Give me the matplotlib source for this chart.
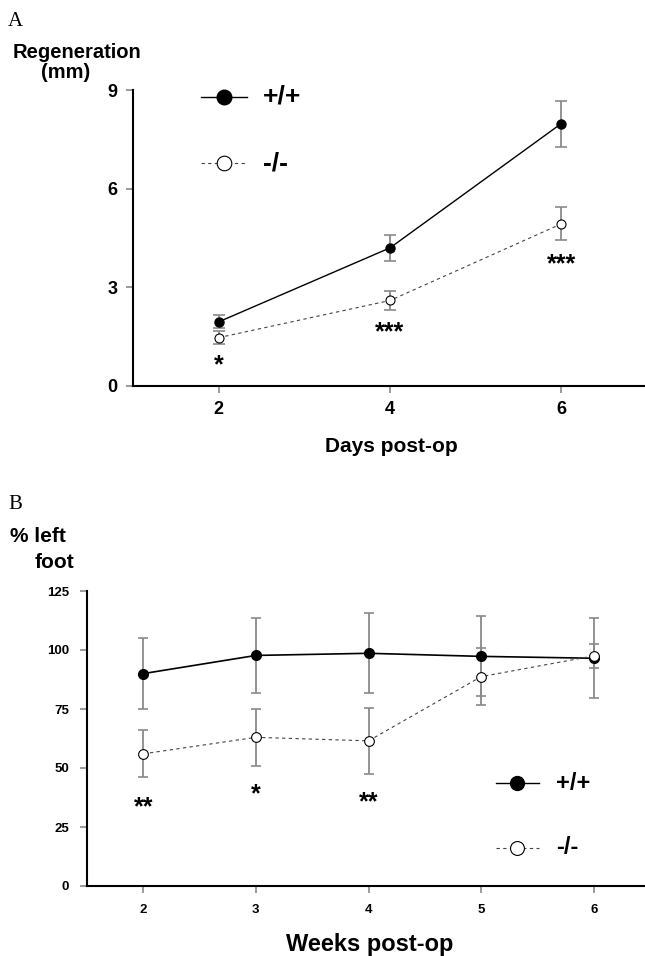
import numpy as np
import matplotlib
matplotlib.use("Agg")
import matplotlib.pyplot as plt

# ---------------- data ----------------
# panel A: nerve regeneration (mm) vs days post-op
days = [2, 4, 6]
regen_wt = [1.95, 4.2, 7.98]
regen_wt_err = [0.2, 0.4, 0.7]
regen_ko = [1.47, 2.6, 4.93]
regen_ko_err = [0.2, 0.3, 0.5]
stars_a = ["*", "***", "***"]
stars_a_y = [0.62, 1.62, 3.7]

# panel B: % left foot vs weeks post-op
weeks = [2, 3, 4, 5, 6]
foot_wt = [90, 97.7, 98.6, 97.3, 96.5]
foot_wt_err = [15, 16, 17, 17, 17]
foot_ko = [56, 63, 61.5, 88.7, 97.5]
foot_ko_err = [10, 12, 14, 12, 5]
stars_b_x = [2, 3, 4]
stars_b = ["**", "*", "**"]
stars_b_y = [33.5, 39, 35.5]

labels = ["+/+", "-/-"]

SANS = "Liberation Sans"
SERIF = "Liberation Serif"
GREY = "#8a8a8a"

W, H = 645, 956
fig = plt.figure(figsize=(W / 100, H / 100), dpi=100)


def style_axes(ax, tick_size, pad_x, pad_y):
    for s in ["top", "right"]:
        ax.spines[s].set_visible(False)
    for s in ["left", "bottom"]:
        ax.spines[s].set_linewidth(1.5)
        ax.spines[s].set_color("black")
    ax.tick_params(axis="both", direction="out", length=5, width=1.2, color=GREY)
    ax.tick_params(axis="x", pad=pad_x)
    ax.tick_params(axis="y", pad=pad_y)
    for t in ax.get_xticklabels() + ax.get_yticklabels():
        t.set_fontfamily(SANS)
        t.set_fontweight("bold")
        t.set_fontsize(tick_size)


def draw_legend(ax, x0, x1, ys, ms, fs):
    xm = (x0 + x1) / 2
    # +/+
    ax.plot([x0, x1], [ys[0], ys[0]], color="black", lw=1.0,
            transform=ax.transAxes, clip_on=False)
    ax.plot([xm], [ys[0]], "o", color="black", ms=ms,
            transform=ax.transAxes, clip_on=False)
    # -/-
    ax.plot([x0, x1], [ys[1], ys[1]], color="#444444", lw=0.8, ls=(0, (3, 3)),
            transform=ax.transAxes, clip_on=False)
    ax.plot([xm], [ys[1]], "o", mfc="white", mec="black", mew=0.8, ms=ms,
            transform=ax.transAxes, clip_on=False)
    for y, lab in zip(ys, labels):
        ax.text(x1 + 0.03, y, lab, transform=ax.transAxes, fontsize=fs,
                fontfamily=SANS, fontweight="bold", va="center", ha="left")


# ================= Panel A =================
axA = fig.add_axes([133 / W, 1 - 386 / H, 514 / W, 296 / H])
axA.errorbar(days, regen_wt, yerr=regen_wt_err, fmt="none", ecolor=GREY,
             elinewidth=1.3, capsize=4, capthick=1.2, zorder=1)
axA.errorbar(days, regen_ko, yerr=regen_ko_err, fmt="none", ecolor=GREY,
             elinewidth=1.3, capsize=4, capthick=1.2, zorder=1)
axA.plot(days, regen_wt, "-o", color="black", lw=1.0, ms=6.5, zorder=3)
axA.plot(days, regen_ko, "o", ls=(0, (3, 3)), color="#444444", lw=0.8,
         mfc="white", mec="black", mew=0.8, ms=6.5, zorder=3)
for x, s, y in zip(days, stars_a, stars_a_y):
    axA.text(x, y, s, ha="center", va="center", fontsize=18,
             fontfamily=SANS, fontweight="bold")
axA.set_xlim(1, 7)
axA.set_ylim(0, 9)
axA.set_xticks(days)
axA.set_yticks([0, 3, 6, 9])
style_axes(axA, 13, 6, 6)
draw_legend(axA, 0.132, 0.222, [0.977, 0.752], 10.5, 19)

fig.text(8 / W, 1 - 22 / H, "A", fontfamily=SERIF, fontsize=15,
         va="center", ha="left")
fig.text(77 / W, 1 - 53 / H, "Regeneration", fontfamily=SANS,
         fontweight="bold", fontsize=14.5, ha="center", va="center")
fig.text(66 / W, 1 - 73 / H, "(mm)", fontfamily=SANS,
         fontweight="bold", fontsize=14.5, ha="center", va="center")
fig.text(391 / W, 1 - 446 / H, "Days post-op", fontfamily=SANS,
         fontweight="bold", fontsize=15, ha="center", va="center")

# ================= Panel B =================
axB = fig.add_axes([87 / W, 1 - 886 / H, 563 / W, 295 / H])
axB.errorbar(weeks, foot_wt, yerr=foot_wt_err, fmt="none", ecolor=GREY,
             elinewidth=1.3, capsize=3.5, capthick=1.2, zorder=1)
axB.errorbar(weeks, foot_ko, yerr=foot_ko_err, fmt="none", ecolor=GREY,
             elinewidth=1.3, capsize=3.5, capthick=1.2, zorder=1)
axB.plot(weeks, foot_wt, "-o", color="black", lw=1.2, ms=7, zorder=3)
axB.plot(weeks, foot_ko, "o", ls=(0, (3, 3)), color="#444444", lw=0.8,
         mfc="white", mec="black", mew=0.8, ms=7, zorder=3)
for x, s, y in zip(stars_b_x, stars_b, stars_b_y):
    axB.text(x, y, s, ha="center", va="center", fontsize=18,
             fontfamily=SANS, fontweight="bold")
axB.set_xlim(1.5, 6.5)
axB.set_ylim(0, 125)
axB.set_xticks(weeks)
axB.set_yticks([0, 25, 50, 75, 100, 125])
style_axes(axB, 9.5, 8, 8)
draw_legend(axB, 0.726, 0.803, [0.348, 0.13], 10, 17)

fig.text(8 / W, 1 - 504 / H, "B", fontfamily=SERIF, fontsize=15,
         va="center", ha="left")
fig.text(10 / W, 1 - 536 / H, "% left", fontfamily=SANS,
         fontweight="bold", fontsize=15, ha="left", va="center")
fig.text(35 / W, 1 - 562 / H, "foot", fontfamily=SANS,
         fontweight="bold", fontsize=15, ha="left", va="center")
fig.text(370 / W, 1 - 945 / H, "Weeks post-op", fontfamily=SANS,
         fontweight="bold", fontsize=17, ha="center", va="center")

fig.savefig("out.png", dpi=100)
